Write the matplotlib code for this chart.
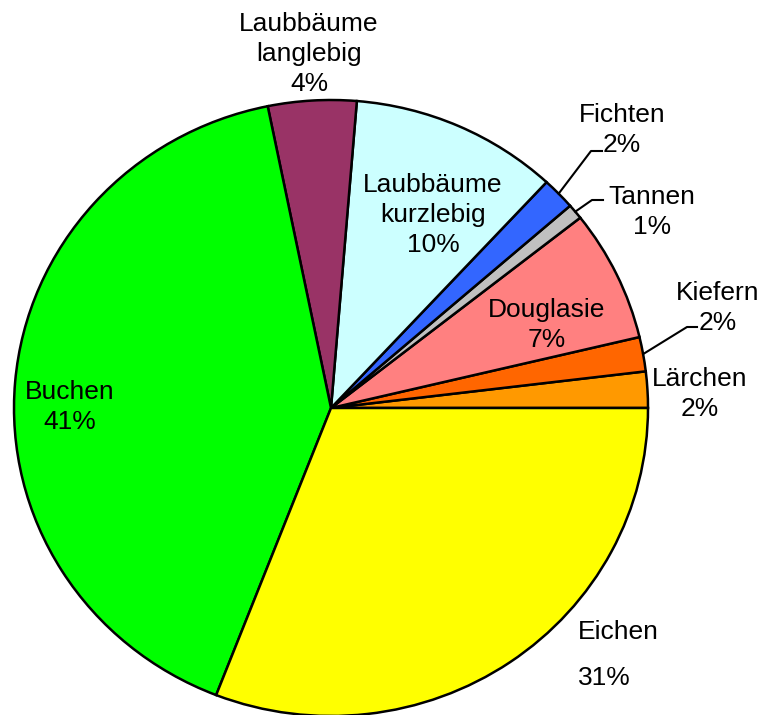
import numpy as np
import matplotlib
matplotlib.use('Agg')
import matplotlib.pyplot as plt

plt.rcParams['font.family'] = ['Liberation Sans', 'DejaVu Sans']

# data, counterclockwise from 3 o'clock
species = ['Lärchen', 'Kiefern', 'Douglasie', 'Tannen', 'Fichten',
           'Laubbäume\nkurzlebig', 'Laubbäume\nlanglebig', 'Buchen', 'Eichen']
shares = [1.9, 1.8, 6.9, 0.8, 1.7, 10.6, 4.5, 40.9, 30.9]
pct_labels = ['2%', '2%', '7%', '1%', '2%', '10%', '4%', '41%', '31%']
colors = ['#FF9900', '#FF6600', '#FF8080', '#C0C0C0', '#3366FF',
          '#CCFFFF', '#993366', '#00FF00', '#FFFF00']

W, H = 765, 715
cx, cy, rx, ry = 331, 408, 317, 308
lim = 1.1

fig = plt.figure(figsize=(W / 100, H / 100), dpi=100)
ax = fig.add_axes([(cx - rx * lim) / W, (H - cy - ry * lim) / H,
                   2 * rx * lim / W, 2 * ry * lim / H])

wedges, _ = ax.pie(shares, colors=colors, startangle=0, counterclock=True,
                   wedgeprops=dict(edgecolor='black', linewidth=1.8))
ax.set_aspect('auto')
ax.set_xlim(-lim, lim)
ax.set_ylim(-lim, lim)
ax.axis('off')


def px(x, y):
    # image pixel -> axes data coords
    return (x - cx) / rx, (cy - y) / ry


def edge_point(w):
    t = np.deg2rad((w.theta1 + w.theta2) / 2)
    return np.cos(t), np.sin(t)


fs = 19
# label placement in pixels (center of text block)
pos = {
    'Lärchen': (700, 394),
    'Kiefern': (718, 308),
    'Douglasie': (547, 325),
    'Tannen': (652, 212),
    'Fichten': (622, 130),
    'Laubbäume\nkurzlebig': (433, 215),
    'Laubbäume\nlanglebig': (309, 54),
    'Buchen': (70, 407),
}
for name, pl in zip(species, pct_labels):
    if name == 'Eichen':
        continue
    x, y = px(*pos[name])
    ax.text(x, y, name + '\n' + pl, ha='center', va='center', fontsize=fs,
            linespacing=1.32)

# Eichen sits lower with wider gap
x, y = px(578, 655)
ax.text(x, y, 'Eichen\n\n31%', ha='left', va='center', fontsize=fs,
        linespacing=0.95)

# leader lines for the thin slices
leaders = {
    'Fichten': [(591, 151), (602, 151)],
    'Tannen': [(592, 200), (603, 200)],
    'Kiefern': [(687, 327), (697, 327)],
}
for i, name in enumerate(species):
    if name in leaders:
        x0, y0 = edge_point(wedges[i])
        pts = [(x0, y0)] + [px(*p) for p in leaders[name]]
        ax.plot([p[0] for p in pts], [p[1] for p in pts], color='black',
                lw=1.5, clip_on=False)

fig.savefig('out.png', dpi=100)
